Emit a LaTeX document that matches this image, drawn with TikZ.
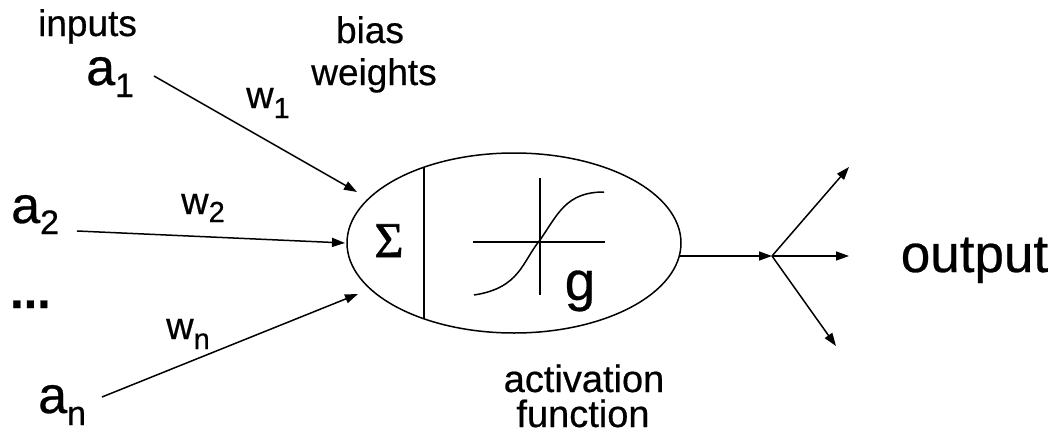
\documentclass[tikz,border=0pt]{standalone}
\usepackage{fontspec}
\setmainfont{Liberation Sans}[FakeBold=0.5,AutoFakeBold=0.5]
\newfontfamily\sigmafont{Liberation Serif}[FakeBold=1.2]
\usetikzlibrary{arrows.meta,shapes.geometric}
\newcommand{\fsz}[1]{\fontsize{#1}{#1}\selectfont}
\begin{document}
\begin{tikzpicture}[x=1pt,y=-1pt,
  ln/.style={line width=1.5pt},
  arr/.style={line width=1.5pt,-{Triangle[length=13pt,width=9pt]}},
  lbl/.style={inner sep=0pt,anchor=base},
  inlbl/.style={inner sep=0pt,anchor=base west},
  neuron/.style={draw,ellipse,line width=1.5pt,minimum width=334pt,minimum height=180pt,inner sep=0pt}]
\useasboundingbox (0,0) rectangle (1053,442);
% labels
\node[lbl] (inputs) at (87.5,36) {\fsz{37}inputs};
\node[lbl] (bias) at (370,43) {\fsz{37}bias};
\node[lbl] (weights) at (374,85) {\fsz{37}weights};
\node[inlbl] (a1) at (86,85) {\fsz{52}a\raisebox{-12pt}{\fsz{34}1}};
\node[inlbl] (a2) at (11,223) {\fsz{52}a\raisebox{-11pt}{\fsz{34}2}};
\node[inlbl] (an) at (38,413) {\fsz{52}a\raisebox{-12pt}{\fsz{34}n}};
\node[inlbl] (dots) at (7,308) {\fsz{70}\bfseries .\kern-6pt.\kern-6pt.};
\node[inlbl] (w1) at (246,108) {\fsz{38}w\raisebox{-10pt}{\fsz{29}1}};
\node[inlbl] (w2) at (181,214) {\fsz{38}w\raisebox{-8pt}{\fsz{29}2}};
\node[inlbl] (wn) at (166,339) {\fsz{38}w\raisebox{-10pt}{\fsz{29}n}};
\node[lbl] (act) at (584,392) {\fsz{38}activation};
\node[lbl] (fun) at (583,427) {\fsz{38}function};
\node[lbl] (out) at (974.5,272) {\fsz{53}output};
% neuron
\node[neuron] (neuron) at (514,243) {};
\draw[ln] (424,167) -- (424,319);
\node[lbl] (sig) at (389,257) {\sigmafont\fsz{50}Σ};
\draw[ln] (473,242) -- (605,242);
\draw[ln] (540,178) -- (540,295);
\draw[ln] (474,295) .. controls (520,288) and (522,262) .. (540,240) .. controls (558,214) and (566,192) .. (604,192);
\node[lbl] (g) at (580,300) {\fsz{55}g};
% input arrows
\coordinate (s1) at (154,76);
\coordinate (t1) at (357,192);
\coordinate (s2) at (77,231);
\coordinate (t2) at (345,243);
\coordinate (sn) at (102,397);
\coordinate (tn) at (358,294);
\draw[arr] (s1) -- (t1);
\draw[arr] (s2) -- (t2);
\draw[arr] (sn) -- (tn);
% output
\coordinate (o0) at (680,256);
\coordinate (j) at (772,256);
\coordinate (o1) at (849,167);
\coordinate (o2) at (849,256);
\coordinate (o3) at (836,346);
\draw[arr] (o0) -- (j);
\draw[arr] (j) -- (o1);
\draw[arr] (j) -- (o2);
\draw[arr] (j) -- (o3);
\end{tikzpicture}
\end{document}
